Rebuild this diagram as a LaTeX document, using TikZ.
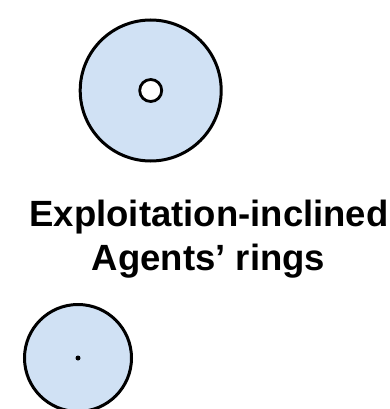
\documentclass[tikz,border=0pt]{standalone}
\usepackage{fontspec}
\setmainfont{Liberation Sans}
\definecolor{ringfill}{HTML}{D0E1F4}
\tikzset{
  ring/.style={circle, draw=black, fill=ringfill, line width=3pt, inner sep=0pt},
  hole/.style={circle, draw=black, fill=white, line width=2.8pt, inner sep=0pt, minimum size=22pt},
  dotmark/.style={circle, fill=black, inner sep=0pt, minimum size=5pt},
  label/.style={font=\fontsize{36.5}{44}\selectfont\bfseries, inner sep=0pt, anchor=base}
}
\begin{document}
\begin{tikzpicture}[x=1pt,y=-1pt]
\useasboundingbox (0,0) rectangle (390,409);
\node[ring, minimum size=141pt] (big) at (150.7,90.5) {};
\node[hole] (bighole) at (big.center) {};
\node[label] (line1) at (209,226) {Exploitation-inclined};
\node[label] (line2) at (208.5,270) {Agents’ rings};
\node[ring, minimum size=107pt, line width=3pt] (small) at (78,358) {};
\node[dotmark] (smalldot) at (small.center) {};
\end{tikzpicture}
\end{document}
